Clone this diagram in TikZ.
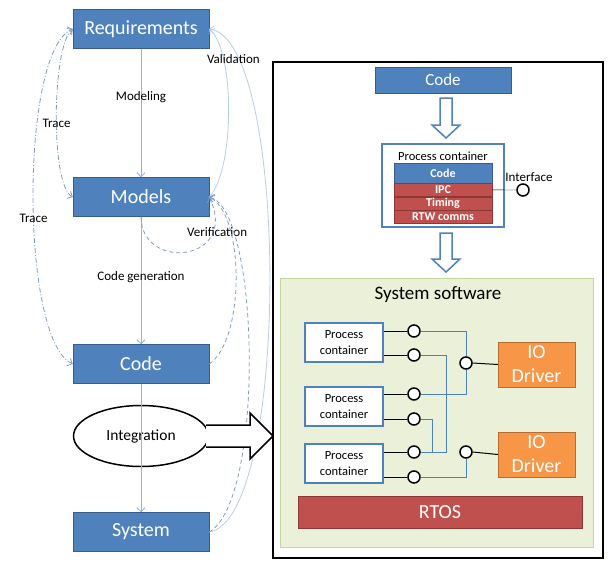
\documentclass[tikz,border=0pt]{standalone}
\usepackage{fontspec}
\setmainfont{Carlito}
\usetikzlibrary{positioning,arrows.meta,shapes.geometric}

\definecolor{boxblue}{HTML}{4F81BD}
\definecolor{boxblueline}{HTML}{385D8A}
\definecolor{boxred}{HTML}{C0504D}
\definecolor{boxredline}{HTML}{8C3836}
\definecolor{boxorange}{HTML}{F79646}
\definecolor{boxorangeline}{HTML}{B66D31}
\definecolor{swgreen}{HTML}{EBF1D8}
\definecolor{swgreenline}{HTML}{C3D69B}
\definecolor{flowline}{HTML}{8EB4E3}
\definecolor{traceline}{HTML}{7F9BC4}
\definecolor{validline}{HTML}{B9CDE5}

\begin{document}
\begin{tikzpicture}[x=1pt, y=-1pt,
  >={Straight Barb[length=4pt,width=8pt]},
  stage/.style = {rectangle, draw=boxblueline, fill=boxblue, text=white,
    minimum width=136, minimum height=39, inner sep=0,
    font=\fontsize{20}{24}\selectfont},
  lbl/.style = {font=\fontsize{13}{15}\selectfont, inner sep=1},
  flow/.style = {draw=flowline, line width=0.8, ->},
  trace/.style = {draw=traceline, line width=0.8, <->,
    dash pattern=on 5pt off 2pt on 1pt off 2pt},
  check/.style = {draw=traceline, line width=0.8, ->, dash pattern=on 4pt off 3pt},
  valid/.style = {draw=validline, line width=0.8, ->},
  stackbox/.style = {rectangle, draw=boxredline, fill=boxred, text=white,
    minimum width=98, minimum height=13, inner sep=0,
    font=\bfseries\fontsize{12}{13}\selectfont},
  pcont/.style = {rectangle, draw=boxblue, fill=white, line width=1.5,
    minimum width=78, minimum height=39, inner sep=0, align=center,
    font=\fontsize{12.5}{16}\selectfont},
  port/.style = {circle, draw=black, fill=white, line width=1.5,
    minimum size=12, inner sep=0},
  driver/.style = {rectangle, draw=boxorangeline, fill=boxorange, text=white,
    minimum width=77, minimum height=45, inner sep=0, align=center,
    font=\fontsize{20}{24}\selectfont},
  hollow/.style = {draw=boxblue, fill=white, line width=1.5},
  wire/.style = {draw=boxblue, line width=0.8}]

  \useasboundingbox (0,0) rectangle (611,581);

  % development flow
  \node[stage] (req) at (141,29) {Requirements};
  \node[stage] (mod) at (141,197) {Models};
  \node[stage] (code) at (141,364) {Code};
  \node[ellipse, draw=black, fill=white, line width=1.5, minimum width=135,
    minimum height=61, font=\fontsize{15.5}{18}\selectfont] (integ) at (141,436) {Integration};
  \node[stage] (sys) at (141,532) {System};

  \draw[flow] (req) -- (mod) node[lbl, pos=0.38] {Modeling};
  \draw[flow] (mod) -- (code) node[lbl, pos=0.47] {Code generation};
  \draw[flow] (code) -- (sys);

  \draw[trace] (mod.west) .. controls (50,185) and (52,45) .. (req.west)
    node[lbl, pos=0.46] {Trace};
  \draw[trace] (code.west) .. controls (20,340) and (20,50) .. (req.west)
    node[lbl, pos=0.45] {Trace};

  \draw[valid] (mod.east) .. controls (235,170) and (235,50) .. (req.east);
  \draw[valid] (sys.east) .. controls (290,520) and (290,40) .. (req.east)
    node[lbl, pos=0.86, xshift=-5] {Validation};
  \draw[check] (mod.south) .. controls (141,272) and (240,262) .. (mod.east)
    node[lbl, pos=0.78, xshift=4] {Verification};
  \draw[check] (code.east) .. controls (245,340) and (245,215) .. (mod.east);
  \draw[check] (sys.east) .. controls (265,500) and (260,210) .. (mod.east);

  % integration into the target
  \node[draw=black, line width=2, minimum width=330, minimum height=496] (frame) at (438,310) {};
  \draw[draw=black, fill=white, line width=1.5] (206,425) -- (250,425) -- (250,413)
    -- (273,436) -- (250,459) -- (250,447) -- (206,447);

  \node[stage, minimum height=26, font=\fontsize{17}{20}\selectfont] (rcode) at (443,80) {Code};
  \draw[hollow] (440,98) -- (452,98) -- (452,125) -- (460,125) -- (446,138)
    -- (432,125) -- (440,125) -- cycle;

  \node[draw=boxblue, fill=white, line width=1.5, minimum width=122, minimum height=83] (pcbox) at (443,185.5) {};
  \node[font=\fontsize{12.5}{15}\selectfont, inner sep=0] (pctitle) at (443,156) {Process container};
  \node[stackbox, draw=boxblueline, fill=boxblue, minimum height=20] (pccode) at (443,173) {Code};
  \node[stackbox, below=0pt of pccode] (pcipc) {IPC};
  \node[stackbox, below=0pt of pcipc] (pctiming) {Timing};
  \node[stackbox, below=0pt of pctiming] (pcrtw) {RTW comms};
  \node[port, label={[lbl, xshift=6]above:Interface}] (iface) at (523,190) {};
  \draw (pcipc.east) -- (iface.west);

  \draw[hollow] (440,233) -- (452,233) -- (452,259) -- (460,259) -- (446,272)
    -- (432,259) -- (440,259) -- cycle;

  % system software
  \node[draw=swgreenline, fill=swgreen, minimum width=313, minimum height=269] (sw) at (436.5,412.5) {};
  \node[font=\fontsize{19}{22}\selectfont] (swtitle) at (438,295) {System software};

  \node[pcont] (pc1) at (344,342.5) {Process\\container};
  \node[pcont] (pc2) at (344,406.5) {Process\\container};
  \node[pcont] (pc3) at (344,463.5) {Process\\container};
  \node[driver] (io1) at (536.5,364.5) {IO\\Driver};
  \node[driver] (io2) at (536.5,454.5) {IO\\Driver};
  \node[rectangle, draw=boxredline, fill=boxred, text=white, minimum width=284,
    minimum height=32, font=\fontsize{20}{24}\selectfont] (rtos) at (440,512) {RTOS};

  \node[port] (p1a) at (414,331) {};
  \node[port] (p1b) at (414,355) {};
  \node[port] (p2a) at (414,394) {};
  \node[port] (p2b) at (414,419) {};
  \node[port] (p3a) at (414,452) {};
  \node[port] (p3b) at (414,477) {};
  \node[port] (m1) at (466,363) {};
  \node[port] (m2) at (466,452) {};
  \coordinate (ipcjoin) at (446,452);

  \draw[wire] (p1a.east) -| (m1.north);
  \draw[wire] (p2a.east) -| (m1.south);
  \draw[wire] (p1b.east) -| (ipcjoin) -- (p3a.east);
  \draw[wire] (p2b.east) -| (p3a.east -| 432,0);
  \draw[wire] (p3b.east) -| (m2.south);

  \foreach \p/\c in {p1a/pc1, p1b/pc1, p2a/pc2, p2b/pc2, p3a/pc3, p3b/pc3}
    \draw[line width=1] (\p.west -| \c.east) -- (\p.west);
  \draw[line width=1] (m1.east) -- (io1.west);
  \draw[line width=1] (m2.east) -- (io2.west);
\end{tikzpicture}
\end{document}
